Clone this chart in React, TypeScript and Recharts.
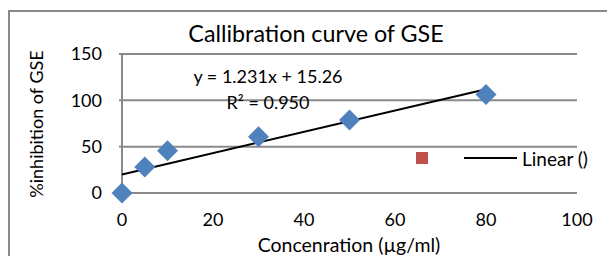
import React from 'react';
import { ScatterChart, Scatter, XAxis, YAxis, CartesianGrid, Legend } from 'recharts';

const concentrations = [0, 5, 10, 30, 50, 80];
const inhibition = [0, 28, 45.5, 60.8, 78.8, 106.2];
const trendX = [0, 80];
const trendY = [20, 112];
const xTicks = [0, 20, 40, 60, 80, 100];
const yTicks = [0, 50, 100, 150];
const titleText = 'Callibration curve of GSE';
const equationText = 'y = 1.231x + 15.26';
const r2Text = 'R² = 0.950';
const xLabel = 'Concenration (µg/ml)';
const yLabel = '%inhibition of GSE';
const legendLabel = 'Linear ()';

const points = concentrations.map((x, i) => ({ x, y: inhibition[i] }));
const trend = trendX.map((x, i) => ({ x, y: trendY[i] }));

const FONT = 'Lato, sans-serif';
const GRID = '#8a8a8a';

const Diamond = (props: any) => {
  const { cx, cy } = props;
  const r = 10.5;
  return (
    <polygon
      points={`${cx},${cy - r} ${cx + r},${cy} ${cx},${cy + r} ${cx - r},${cy}`}
      fill="#4F81BD"
    />
  );
};

const LegendContent = () => (
  <svg width={200} height={24} style={{ display: 'block' }}>
    <rect x={8} y={6} width={12} height={12} fill="#C0504D" />
    <line x1={56} x2={109} y1={12} y2={12} stroke="#000" strokeWidth={2} />
    <text x={114} y={20} fontSize={19} fontFamily={FONT} fill="#000">
      {legendLabel}
    </text>
  </svg>
);

export default function App() {
  return (
    <div style={{ position: 'absolute', left: 0, top: 0, width: 607, height: 256, background: '#fff', overflow: 'hidden' }}>
      <div
        style={{
          position: 'absolute',
          left: 8,
          top: 10,
          width: 620,
          height: 270,
          borderLeft: `2px solid ${GRID}`,
          borderTop: `2px solid ${GRID}`,
          boxSizing: 'border-box',
        }}
      />
      <div style={{ position: 'absolute', left: 0, top: 0 }}>
        <ScatterChart width={607} height={256} margin={{ top: 54, right: 30, bottom: 33, left: 62 }}>
          <CartesianGrid horizontal vertical={false} stroke={GRID} strokeWidth={2} />
          <XAxis
            type="number"
            dataKey="x"
            domain={[0, 100]}
            ticks={xTicks}
            height={30}
            axisLine={false}
            tickLine={false}
            tickSize={0}
            tickMargin={20}
            tick={{ fill: '#000', fontSize: 18, fontFamily: FONT }}
            interval={0}
          />
          <YAxis
            type="number"
            dataKey="y"
            domain={[0, 150]}
            ticks={yTicks}
            width={60}
            axisLine={{ stroke: GRID, strokeWidth: 2 }}
            tickLine={{ stroke: GRID, strokeWidth: 2 }}
            tickSize={3}
            tickMargin={17}
            tick={{ fill: '#000', fontSize: 18, fontFamily: FONT }}
            interval={0}
          />
          <Scatter data={trend} line={{ stroke: '#000', strokeWidth: 2 }} lineType="joint" shape={() => <g />} isAnimationActive={false} legendType="none" />
          <Scatter data={points} shape={Diamond} isAnimationActive={false} legendType="none" />
          <Legend
            layout="vertical"
            align="center"
            verticalAlign="middle"
            content={LegendContent}
            wrapperStyle={{ left: 408, top: 146, width: 200, height: 24 }}
          />
          <text x={316} y={42} textAnchor="middle" fontSize={23.3} fontFamily={FONT} fill="#000">
            {titleText}
          </text>
          <text x={268} y={83} textAnchor="middle" fontSize={18} fontFamily={FONT} fill="#000">
            {equationText}
          </text>
          <text x={268} y={109} textAnchor="middle" fontSize={18} fontFamily={FONT} fill="#000">
            {r2Text}
          </text>
          <text x={349} y={252} textAnchor="middle" fontSize={19.5} fontFamily={FONT} fill="#000">
            {xLabel}
          </text>
          <text
            x={36}
            y={124}
            textAnchor="middle"
            dominantBaseline="central"
            transform="rotate(-90 36 124)"
            fontSize={18}
            fontFamily={FONT}
            fill="#000"
          >
            {yLabel}
          </text>
        </ScatterChart>
      </div>
    </div>
  );
}
